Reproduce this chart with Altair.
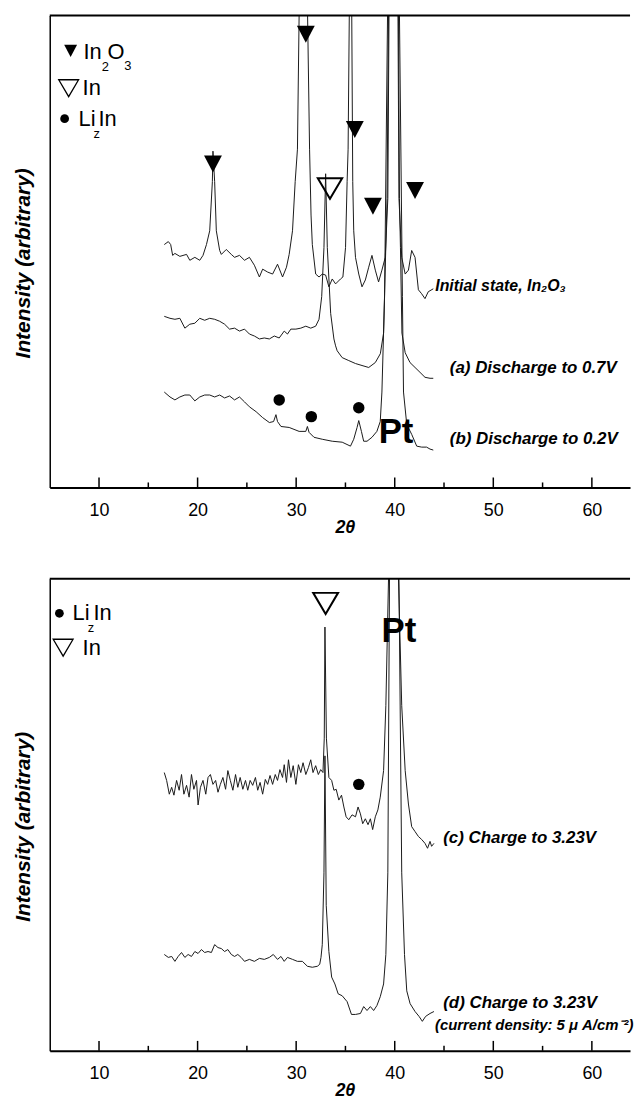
import altair as alt
import pandas as pd

# ---------------- data ----------------
# top panel (intensity in arbitrary units, stacked offsets as drawn)
init_x = [16.62,17.03,17.27,17.47,17.70,18.20,18.88,19.21,19.72,20.22,20.55,20.90,21.23,21.50,21.56,21.73,21.90,22.24,22.41,22.91,
          23.42,23.75,24.25,24.76,25.26,25.76,26.27,26.60,27.11,27.61,28.11,28.62,29.02,29.29,29.63,29.90,30.13,30.30,30.65,31.16,
          31.36,31.51,31.64,31.98,32.32,32.65,32.99,33.32,33.66,34.00,34.50,34.74,35.01,35.17,35.27,35.39,35.52,35.64,35.74,35.84,
          36.02,36.35,36.68,37.02,37.36,37.69,38.03,38.36,38.70,39.04,39.30,39.42,39.88,40.33,40.43,40.71,41.06,41.39,41.72,42.06,
          42.40,42.73,43.07,43.40,43.91]
init_y = [247,250,247,236,238,235,237,231,234,231,236,247,261,311,342,311,261,241,237,242,
          237,234,236,231,234,226,214,222,219,217,227,214,224,237,261,311,344,480,900,480,
          344,277,247,217,214,217,216,204,212,207,212,214,244,311,344,480,900,480,311,261,
          234,217,204,211,224,236,221,209,221,234,294,480,1500,480,294,234,217,221,241,234,
          201,197,192,199,202]

a_x = [16.62,17.20,17.70,18.20,18.71,19.21,19.72,20.22,20.72,21.23,21.73,22.24,22.74,23.24,23.75,24.25,24.76,25.26,25.76,26.27,
       26.77,27.28,27.78,28.28,28.79,29.12,29.46,29.97,30.47,30.98,31.48,31.98,32.32,32.59,32.82,32.99,33.16,33.50,33.83,34.00,
       34.16,34.67,35.34,36.02,36.68,37.36,38.03,38.54,38.87,39.22,39.37,39.87,40.38,40.48,40.58,40.73,41.06,41.55,42.06,42.57,
       43.07,43.58,43.91]
a_y = [174,172,171,172,162,166,167,172,170,172,171,169,166,161,162,159,161,156,154,151,
       152,151,154,152,159,156,161,161,162,164,162,164,171,194,244,319,244,177,151,144,
       139,132,129,126,124,122,127,136,157,294,480,1500,480,294,244,157,137,127,122,117,
       112,111,111]

b_x = [16.62,17.20,17.70,18.20,18.71,19.21,19.72,20.22,20.72,21.23,21.73,22.24,22.74,23.24,23.75,24.25,24.76,25.26,25.94,26.60,
       27.28,27.71,27.95,28.11,28.46,29.29,30.30,30.98,31.14,31.31,31.81,32.65,33.66,34.67,35.51,35.84,36.18,36.35,36.62,36.85,
       37.19,37.69,38.19,38.53,38.70,38.97,39.27,39.90,40.48,40.78,40.89,41.22,41.72,42.23,42.73,43.23,43.58,43.91]
b_y = [97,92,89,92,94,94,88,92,94,94,92,94,91,93,89,92,87,82,77,71,
       66,67,74,67,62,61,57,57,62,56,51,49,47,46,42,49,61,68,57,47,
       47,51,57,67,97,194,480,1500,480,194,97,64,54,42,41,41,39,38]

# bottom panel
c_x = [16.62,16.86,17.13,17.37,17.60,17.87,18.13,18.37,18.61,18.88,19.14,19.38,19.62,19.89,20.05,20.29,20.55,20.83,21.06,21.30,
       21.56,21.83,22.07,22.31,22.57,22.84,23.07,23.32,23.58,23.85,24.08,24.32,24.59,24.86,25.09,25.33,25.59,25.87,26.10,26.34,
       26.60,26.87,27.11,27.35,27.61,27.88,28.11,28.35,28.62,28.79,29.02,29.22,29.46,29.70,29.97,30.23,30.47,30.70,30.98,31.24,
       31.48,31.71,31.98,32.25,32.49,32.72,32.85,32.92,33.07,33.32,33.60,33.83,34.06,34.33,34.60,34.84,35.07,35.34,35.67,36.02,
       36.28,36.52,36.75,37.02,37.29,37.53,37.76,38.03,38.29,38.53,38.87,39.10,39.37,39.85,40.38,40.71,41.06,41.39,41.72,42.06,
       42.40,42.73,43.07,43.33,43.58,43.74,43.98]
c_y = [283,275,261,268,260,275,265,281,261,270,258,281,266,275,250,268,275,261,278,281,
       271,275,263,271,278,266,285,275,265,281,268,278,266,275,265,275,270,278,265,273,
       261,276,271,280,271,281,275,286,278,291,273,296,278,290,271,291,283,293,281,288,
       296,283,290,281,286,283,318,431,318,278,275,265,266,255,260,248,238,235,240,238,
       248,241,231,236,230,236,225,238,245,258,285,351,480,1500,480,351,285,251,228,223,
       218,215,211,206,213,208,211]

d_x = [16.62,17.03,17.37,17.70,18.03,18.37,18.71,19.04,19.38,19.72,20.05,20.39,20.72,21.06,21.40,21.73,22.07,22.41,22.74,23.07,
       23.42,23.75,24.08,24.42,24.76,25.26,25.76,26.27,26.77,27.28,27.68,28.11,28.46,28.79,29.12,29.63,30.13,30.63,31.14,31.64,
       32.15,32.39,32.52,32.65,32.82,32.92,33.05,33.32,33.60,33.93,34.26,34.67,35.17,35.61,36.02,36.52,36.85,37.19,37.53,37.86,
       38.19,38.53,38.87,39.10,39.30,39.47,39.95,40.43,40.71,40.99,41.22,41.56,42.06,42.47,42.80,43.13,43.58,43.98]
d_y = [98,95,96,91,96,100,95,98,96,101,99,103,100,101,100,108,105,104,101,103,
       98,96,98,95,91,93,91,94,93,95,98,93,96,91,95,93,91,91,86,85,
       86,88,95,108,181,300,148,101,75,68,58,56,50,37,37,38,45,41,45,41,
       46,55,68,98,181,480,1500,480,181,98,61,48,40,35,30,35,38,40]

# peak markers (2theta, intensity)
top_in2o3_x = [21.56, 30.98, 35.95, 37.79, 42.06]
top_in2o3_y = [329, 461, 364, 286, 302]
top_in_x = [33.43]
top_in_y = [304]
top_lizin_x = [28.28, 31.54, 36.35]
top_lizin_y = [89, 72, 81]
bot_in_x = [32.99]
bot_in_y = [455]
bot_lizin_x = [36.35]
bot_lizin_y = [271]

major_ticks = [10, 20, 30, 40, 50, 60]
minor_ticks = [15, 25, 35, 45, 55]

W, H = 584, 475
X_MAX = 5 + W / 9.92
FONT = "Liberation Sans"
TRI_DOWN = "M-1,-0.95L1,-0.95L0,0.95Z"
TRI_OPEN = "M-1,-0.85L1,-0.85L0,0.85Z"

xscale = alt.Scale(domain=[5, X_MAX], nice=False, zero=False)
yscale = alt.Scale(domain=[0, 480], nice=False, zero=False)


def curves_df(series):
    frames = []
    for name, xs, ys in series:
        frames.append(pd.DataFrame({"theta": xs, "intensity": ys, "curve": name}))
    return pd.concat(frames, ignore_index=True)


def texts_df(rows):
    return pd.DataFrame(rows, columns=["theta", "intensity", "text", "fs"])


def text_layer(rows, **kw):
    return alt.Chart(texts_df(rows)).mark_text(font=FONT, color="black", **kw).encode(
        x=alt.X("theta:Q", scale=xscale), y=alt.Y("intensity:Q", scale=yscale),
        text="text:N", size=alt.Size("fs:Q", scale=None, legend=None))


def points_layer(xs, ys, shape, size, filled, sw=0):
    df = pd.DataFrame({"theta": xs, "intensity": ys})
    kw = dict(shape=shape, size=size, filled=filled, opacity=1)
    if filled:
        kw.update(color="black", strokeWidth=0)
    else:
        kw.update(stroke="black", strokeWidth=sw, fillOpacity=0)
    return alt.Chart(df).mark_point(**kw).encode(
        x=alt.X("theta:Q", scale=xscale), y=alt.Y("intensity:Q", scale=yscale))


def panel(series, extra_layers):
    lines = alt.Chart(curves_df(series)).mark_line(
        color="#1a1a1a", strokeWidth=1, clip=True).encode(
        x=alt.X("theta:Q", scale=xscale,
                axis=alt.Axis(values=major_ticks, ticks=False, grid=False, domainWidth=2,
                              domainColor="black", labelFontSize=18, labelFont=FONT,
                              labelColor="black", labelPadding=14, title="2θ",
                              titleFont=FONT, titleFontSize=18, titleFontWeight="bold",
                              titleFontStyle="italic", titleColor="black", titlePadding=-1,
                              titleX=297)),
        y=alt.Y("intensity:Q", scale=yscale,
                axis=alt.Axis(labels=False, ticks=False, grid=False, domainWidth=1.5,
                              domainColor="black", title="Intensity (arbitrary)",
                              titleFont=FONT, titleFontSize=21, titleFontWeight="bold",
                              titleFontStyle="italic", titleColor="black", titleAngle=270,
                              titleBaseline="bottom", titleAlign="center",
                              titleX=-16, titleY=249)),
        detail="curve:N")
    top_rule = alt.Chart(pd.DataFrame({"k": [0]})).mark_rule(color="black", strokeWidth=2).encode(
        x=alt.value(0), x2=alt.value(W), y=alt.value(0))
    maj = alt.Chart(pd.DataFrame({"t": major_ticks})).mark_rule(color="black", strokeWidth=1.5).encode(
        x=alt.X("t:Q", scale=xscale), y=alt.value(H), y2=alt.value(H - 10))
    mino = alt.Chart(pd.DataFrame({"t": minor_ticks})).mark_rule(color="black", strokeWidth=1.5).encode(
        x=alt.X("t:Q", scale=xscale), y=alt.value(H), y2=alt.value(H - 5))
    return alt.layer(lines, top_rule, maj, mino, *extra_layers).properties(width=W, height=H)


BI = dict(fontWeight="bold", fontStyle="italic")

# ---------------- top panel ----------------
top_labels = text_layer([
    (45.59, 121, "(a) Discharge to 0.7V", 17),
    (45.59, 49, "(b) Discharge to 0.2V", 17),
    (44.11, 205, "Initial  state, In₂O₃", 16),
], align="left", baseline="middle", **BI)
top_pt = text_layer([(40.13, 56, "Pt", 35)], align="center", baseline="middle", fontWeight="bold")
top_legend_txt = text_layer([
    (8.43, 443, "In", 22), (10.85, 443, "O", 22),
    (8.33, 406, "In", 22),
    (7.92, 375, "Li", 22), (9.95, 375, "In", 22),
], align="left", baseline="middle")
top_legend_sub = text_layer([
    (10.27, 428, "2", 13), (12.56, 429, "3", 13), (9.45, 359, "z", 13),
], align="left", baseline="middle")

top_chart = panel(
    [("Initial state, In2O3", init_x, init_y),
     ("(a) Discharge to 0.7V", a_x, a_y),
     ("(b) Discharge to 0.2V", b_x, b_y)],
    [points_layer(top_in2o3_x, top_in2o3_y, TRI_DOWN, 324, True),
     points_layer(top_in_x, top_in_y, TRI_OPEN, 600, False, 2),
     points_layer(top_lizin_x, top_lizin_y, "circle", 133, True),
     points_layer([7.12], [444], TRI_DOWN, 169, True),
     points_layer([6.92], [406], TRI_OPEN, 400, False, 1.3),
     points_layer([6.51], [375], "circle", 78, True),
     top_labels, top_pt, top_legend_txt, top_legend_sub])

# ---------------- bottom panel ----------------
bot_labels = text_layer([
    (44.92, 216, "(c) Charge to 3.23V", 17),
    (44.92, 49, "(d) Charge to 3.23V", 17),
    (44.08, 26, "(current density: 5 μ A/cm⁻²)", 15),
], align="left", baseline="middle", **BI)
bot_pt = text_layer([(40.43, 427, "Pt", 35)], align="center", baseline="middle", fontWeight="bold")
bot_legend_txt = text_layer([
    (7.32, 445, "Li", 22), (9.44, 445, "In", 22),
    (8.33, 410, "In", 22),
], align="left", baseline="middle")
bot_legend_sub = text_layer([(8.85, 430, "z", 13)], align="left", baseline="middle")

bottom_chart = panel(
    [("(c) Charge to 3.23V", c_x, c_y),
     ("(d) Charge to 3.23V, 5 uA/cm2", d_x, d_y)],
    [points_layer(bot_in_x, bot_in_y, TRI_OPEN, 625, False, 2),
     points_layer(bot_lizin_x, bot_lizin_y, "circle", 133, True),
     points_layer([5.98], [445], "circle", 78, True),
     points_layer([6.36], [410], TRI_OPEN, 400, False, 1.3),
     bot_labels, bot_pt, bot_legend_txt, bot_legend_sub])

chart = alt.vconcat(top_chart, bottom_chart, spacing=42).properties(
    padding={"left": 4, "top": 3, "right": 0, "bottom": 0},
    background="white",
).configure_view(stroke=None)

chart.save("out.html", embed_options={"renderer": "svg", "actions": False})
